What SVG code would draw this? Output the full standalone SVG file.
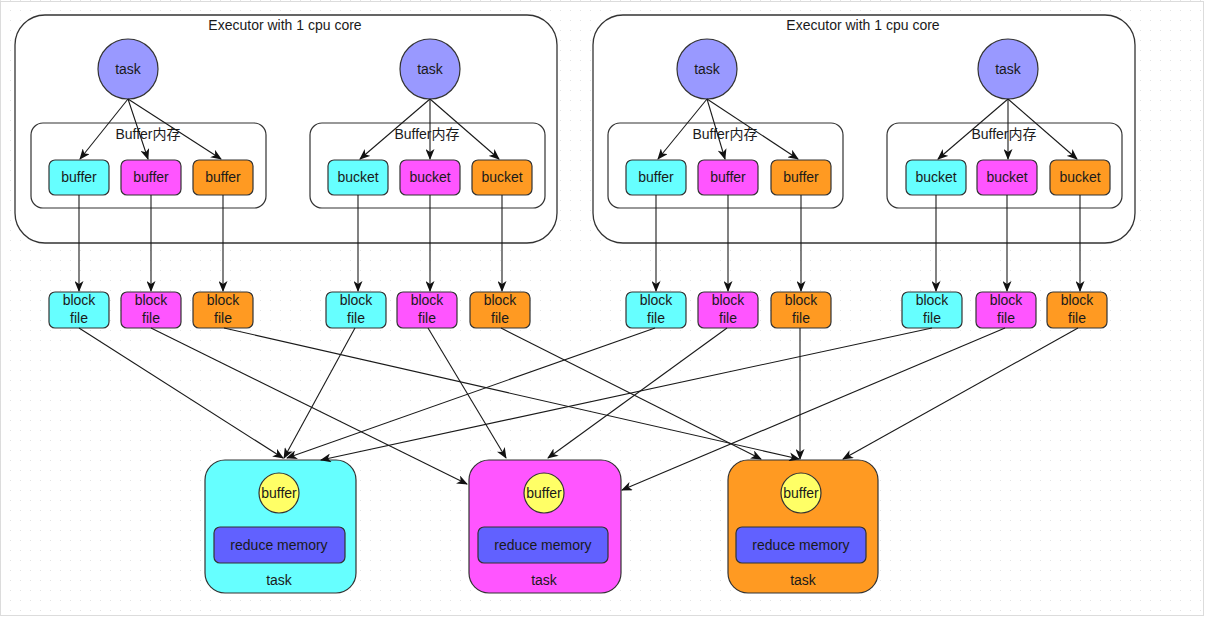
<svg xmlns="http://www.w3.org/2000/svg" width="1209" height="619" viewBox="0 0 1209 619">
<defs>
<pattern id="grid" width="10" height="10" patternUnits="userSpaceOnUse">
<rect x="0" y="0" width="1" height="1" fill="#e4e4e4"/>
</pattern>
<marker id="arr" viewBox="0 0 11 9" refX="10" refY="4.5" markerWidth="11" markerHeight="9" markerUnits="userSpaceOnUse" orient="auto">
<path d="M0,0 L11,4.5 L0,9 L3,4.5 Z" fill="#111"/>
</marker>
<style>
text{font-family:"Liberation Sans","Noto Sans CJK SC",Arial,sans-serif;font-size:14px;fill:#1a1a1a;text-anchor:middle}
.exec{fill:#fff;stroke:#333;stroke-width:1.3}
.mem{fill:#fff;stroke:#333;stroke-width:1.2}
.tc{fill:#9999ff;stroke:#333;stroke-width:1.2}
.cy{fill:#66ffff;stroke:#333;stroke-width:1.2}
.mg{fill:#ff55ff;stroke:#333;stroke-width:1.2}
.or{fill:#ff9a22;stroke:#333;stroke-width:1.2}
.yl{fill:#ffff66;stroke:#333;stroke-width:1.2}
.rm{fill:#6161ff;stroke:#333;stroke-width:1.2}
.c line{stroke:#1a1a1a;stroke-width:1.1;marker-end:url(#arr)}
</style>
</defs>
<rect x="0" y="0" width="1209" height="619" fill="#fff"/>
<rect x="0" y="0" width="1209" height="619" fill="url(#grid)"/>
<rect x="0.5" y="1.5" width="1203" height="614" fill="none" stroke="#dcdcdc"/>

<g id="executor1">
<rect class="exec" x="15" y="15" width="542" height="228" rx="30"/>
<text x="285" y="30">Executor with 1 cpu core</text>
<g id="mem1"><rect class="mem" x="31" y="123" width="235" height="85" rx="12"/><text x="148" y="139">Buffer内存</text></g>
<g id="mem2"><rect class="mem" x="310" y="123" width="235" height="85" rx="12"/><text x="427" y="139">Buffer内存</text></g>
</g>
<g id="executor2">
<rect class="exec" x="593" y="15" width="542" height="228" rx="30"/>
<text x="863" y="30">Executor with 1 cpu core</text>
<g id="mem3"><rect class="mem" x="608" y="123" width="235" height="85" rx="12"/><text x="725" y="139">Buffer内存</text></g>
<g id="mem4"><rect class="mem" x="887" y="123" width="235" height="85" rx="12"/><text x="1004" y="139">Buffer内存</text></g>
</g>

<g id="task1"><circle class="tc" cx="128" cy="69" r="30"/><text x="128" y="74">task</text></g>
<g id="task2"><circle class="tc" cx="430" cy="69" r="30"/><text x="430" y="74">task</text></g>
<g id="task3"><circle class="tc" cx="707" cy="69" r="30"/><text x="707" y="74">task</text></g>
<g id="task4"><circle class="tc" cx="1008" cy="69" r="30"/><text x="1008" y="74">task</text></g>

<g id="buf1a"><rect class="cy" x="49" y="160" width="60" height="35" rx="6"/><text x="79" y="182">buffer</text></g>
<g id="buf1b"><rect class="mg" x="121" y="160" width="60" height="35" rx="6"/><text x="151" y="182">buffer</text></g>
<g id="buf1c"><rect class="or" x="193" y="160" width="60" height="35" rx="6"/><text x="223" y="182">buffer</text></g>
<g id="bkt2a"><rect class="cy" x="328" y="160" width="60" height="35" rx="6"/><text x="358" y="182">bucket</text></g>
<g id="bkt2b"><rect class="mg" x="400" y="160" width="60" height="35" rx="6"/><text x="430" y="182">bucket</text></g>
<g id="bkt2c"><rect class="or" x="472" y="160" width="60" height="35" rx="6"/><text x="502" y="182">bucket</text></g>
<g id="buf3a"><rect class="cy" x="626" y="160" width="60" height="35" rx="6"/><text x="656" y="182">buffer</text></g>
<g id="buf3b"><rect class="mg" x="698" y="160" width="60" height="35" rx="6"/><text x="728" y="182">buffer</text></g>
<g id="buf3c"><rect class="or" x="771" y="160" width="60" height="35" rx="6"/><text x="801" y="182">buffer</text></g>
<g id="bkt4a"><rect class="cy" x="906" y="160" width="60" height="35" rx="6"/><text x="936" y="182">bucket</text></g>
<g id="bkt4b"><rect class="mg" x="977" y="160" width="60" height="35" rx="6"/><text x="1007" y="182">bucket</text></g>
<g id="bkt4c"><rect class="or" x="1050" y="160" width="60" height="35" rx="6"/><text x="1080" y="182">bucket</text></g>

<g id="bf1a"><rect class="cy" x="49" y="292" width="60" height="36" rx="6"/><text x="79" y="305">block</text><text x="79" y="323">file</text></g>
<g id="bf1b"><rect class="mg" x="121" y="292" width="60" height="36" rx="6"/><text x="151" y="305">block</text><text x="151" y="323">file</text></g>
<g id="bf1c"><rect class="or" x="193" y="292" width="60" height="36" rx="6"/><text x="223" y="305">block</text><text x="223" y="323">file</text></g>
<g id="bf2a"><rect class="cy" x="326" y="292" width="60" height="36" rx="6"/><text x="356" y="305">block</text><text x="356" y="323">file</text></g>
<g id="bf2b"><rect class="mg" x="397" y="292" width="60" height="36" rx="6"/><text x="427" y="305">block</text><text x="427" y="323">file</text></g>
<g id="bf2c"><rect class="or" x="470" y="292" width="60" height="36" rx="6"/><text x="500" y="305">block</text><text x="500" y="323">file</text></g>
<g id="bf3a"><rect class="cy" x="626" y="292" width="60" height="36" rx="6"/><text x="656" y="305">block</text><text x="656" y="323">file</text></g>
<g id="bf3b"><rect class="mg" x="698" y="292" width="60" height="36" rx="6"/><text x="728" y="305">block</text><text x="728" y="323">file</text></g>
<g id="bf3c"><rect class="or" x="771" y="292" width="60" height="36" rx="6"/><text x="801" y="305">block</text><text x="801" y="323">file</text></g>
<g id="bf4a"><rect class="cy" x="902" y="292" width="60" height="36" rx="6"/><text x="932" y="305">block</text><text x="932" y="323">file</text></g>
<g id="bf4b"><rect class="mg" x="976" y="292" width="60" height="36" rx="6"/><text x="1006" y="305">block</text><text x="1006" y="323">file</text></g>
<g id="bf4c"><rect class="or" x="1047" y="292" width="60" height="36" rx="6"/><text x="1077" y="305">block</text><text x="1077" y="323">file</text></g>

<g id="reduce1">
<rect class="cy" x="205" y="460" width="151" height="133" rx="20"/>
<circle class="yl" cx="279" cy="493" r="20"/><text x="279" y="498">buffer</text>
<rect class="rm" x="214" y="527" width="131" height="36" rx="6"/><text x="279" y="550">reduce memory</text>
<text x="279" y="585">task</text>
</g>
<g id="reduce2">
<rect class="mg" x="469" y="460" width="152" height="133" rx="20"/>
<circle class="yl" cx="544" cy="493" r="20"/><text x="544" y="498">buffer</text>
<rect class="rm" x="478" y="527" width="130" height="36" rx="6"/><text x="543" y="550">reduce memory</text>
<text x="544" y="585">task</text>
</g>
<g id="reduce3">
<rect class="or" x="728" y="460" width="150" height="133" rx="20"/>
<circle class="yl" cx="801" cy="493" r="20"/><text x="801" y="498">buffer</text>
<rect class="rm" x="736" y="527" width="130" height="36" rx="6"/><text x="801" y="550">reduce memory</text>
<text x="803" y="585">task</text>
</g>

<g id="connectors" class="c">
<line x1="128" y1="99" x2="80" y2="159"/>
<line x1="128" y1="99" x2="148" y2="159"/>
<line x1="128" y1="99" x2="221" y2="159"/>
<line x1="430" y1="99" x2="360" y2="159"/>
<line x1="430" y1="99" x2="430" y2="159"/>
<line x1="430" y1="99" x2="499" y2="159"/>
<line x1="707" y1="99" x2="658" y2="159"/>
<line x1="707" y1="99" x2="725" y2="159"/>
<line x1="707" y1="99" x2="798" y2="159"/>
<line x1="1008" y1="99" x2="938" y2="159"/>
<line x1="1008" y1="99" x2="1008" y2="159"/>
<line x1="1008" y1="99" x2="1077" y2="159"/>

<line x1="79" y1="195" x2="79" y2="291"/>
<line x1="151" y1="195" x2="151" y2="291"/>
<line x1="223" y1="195" x2="223" y2="291"/>
<line x1="358" y1="195" x2="358" y2="291"/>
<line x1="430" y1="195" x2="430" y2="291"/>
<line x1="502" y1="195" x2="502" y2="291"/>
<line x1="656" y1="195" x2="656" y2="291"/>
<line x1="728" y1="195" x2="728" y2="291"/>
<line x1="801" y1="195" x2="801" y2="291"/>
<line x1="936" y1="195" x2="936" y2="291"/>
<line x1="1007" y1="195" x2="1007" y2="291"/>
<line x1="1080" y1="195" x2="1080" y2="291"/>

<line x1="79" y1="328" x2="283" y2="458"/>
<line x1="355" y1="328" x2="284" y2="458"/>
<line x1="655" y1="328" x2="287" y2="458"/>
<line x1="932" y1="328" x2="321" y2="460"/>

<line x1="151" y1="328" x2="467" y2="484"/>
<line x1="428" y1="328" x2="506" y2="458"/>
<line x1="727" y1="328" x2="548" y2="458"/>
<line x1="1005" y1="328" x2="622" y2="490"/>

<line x1="224" y1="328" x2="799" y2="459"/>
<line x1="501" y1="328" x2="761" y2="459"/>
<line x1="800" y1="328" x2="800" y2="459"/>
<line x1="1078" y1="328" x2="843" y2="459"/>
</g>
</svg>
